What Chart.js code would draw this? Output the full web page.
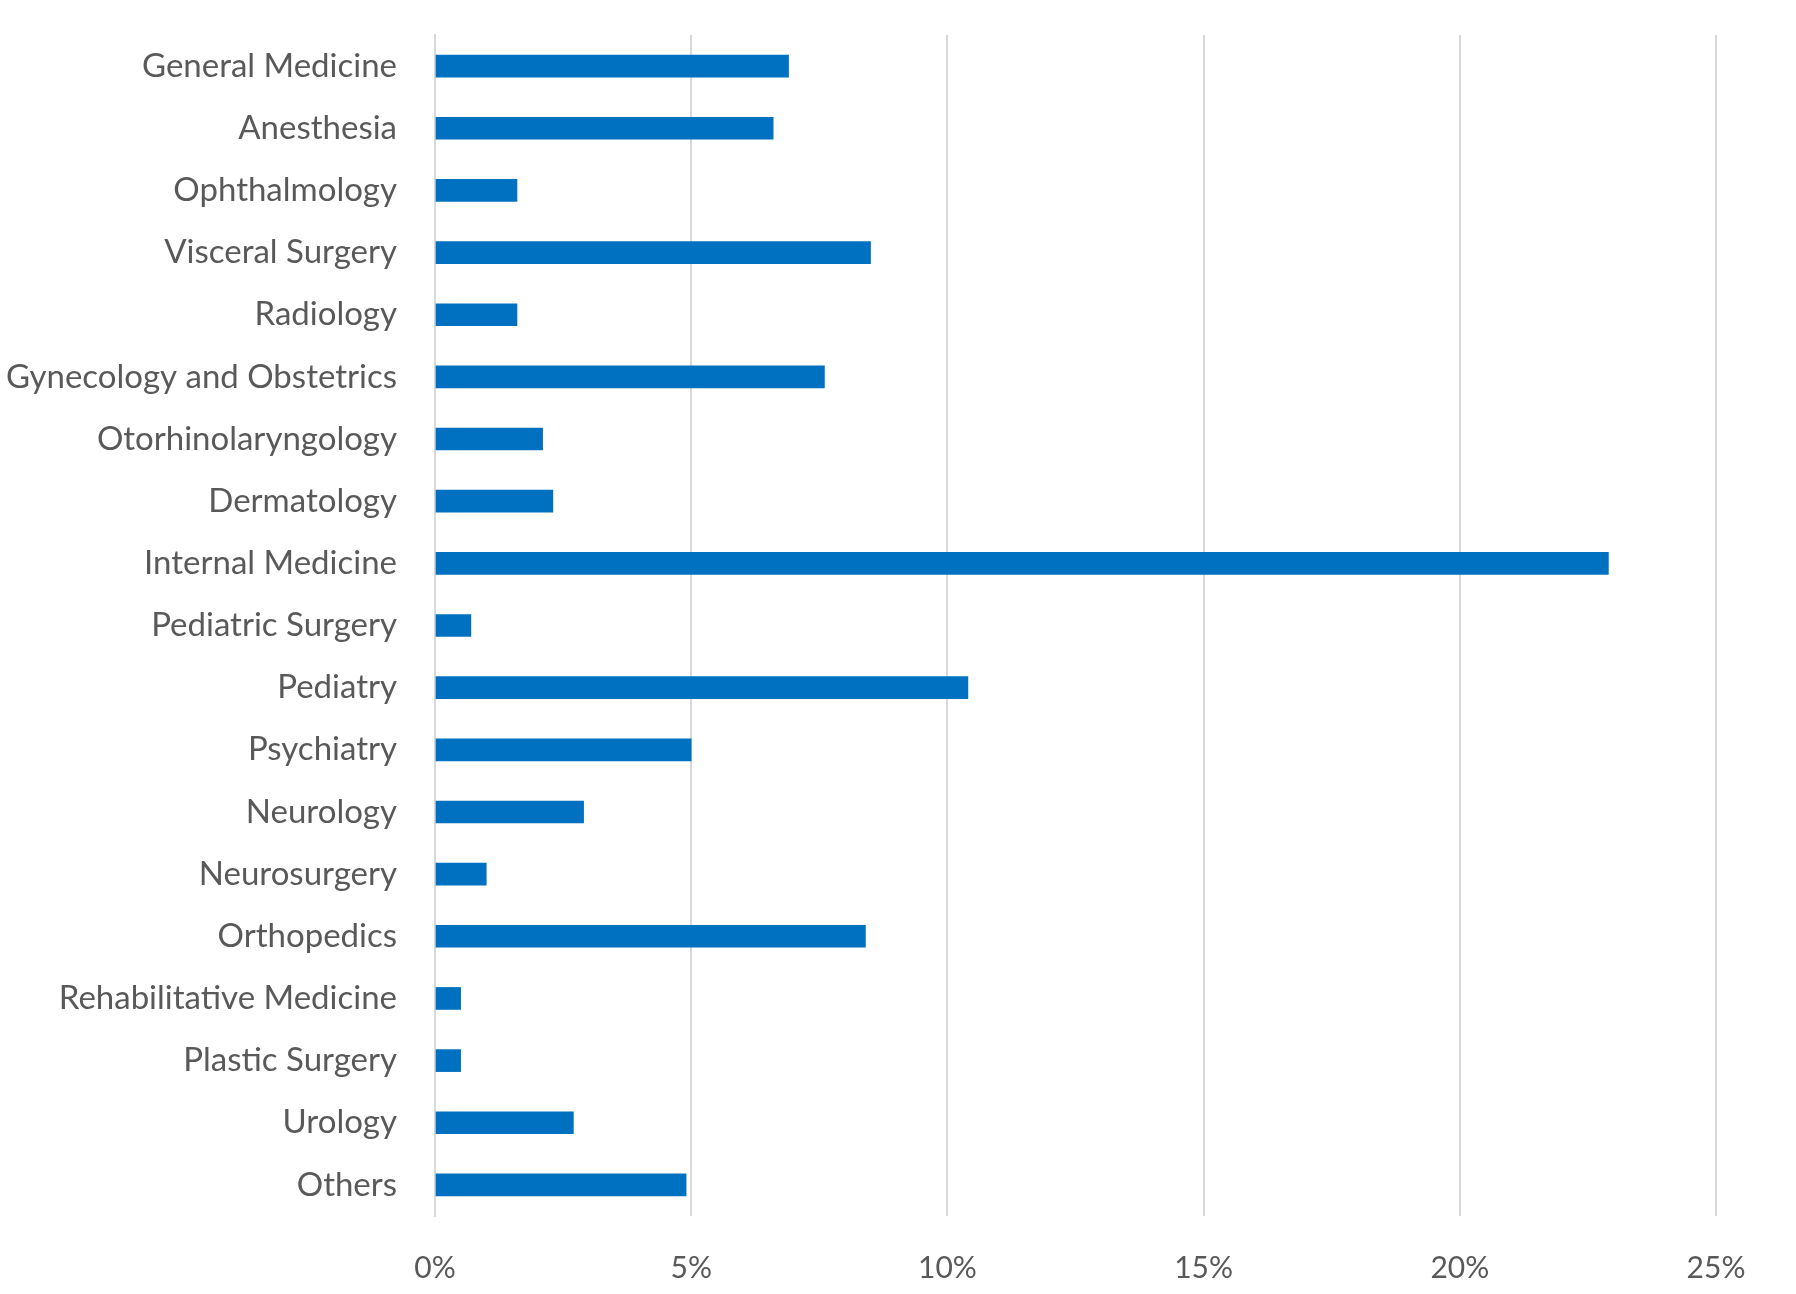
<!DOCTYPE html>
<html>
<head>
<meta charset="utf-8">
<script src="https://cdn.jsdelivr.net/npm/chart.js@4/dist/chart.umd.min.js"></script>
<style>
  html, body { margin: 0; padding: 0; background: #fff; }
</style>
</head>
<body>
<canvas id="chart" width="1796" height="1294"></canvas>
<script>
// departamentos y porcentajes
const departments = [
  'General Medicine', 'Anesthesia', 'Ophthalmology', 'Visceral Surgery', 'Radiology',
  'Gynecology and Obstetrics', 'Otorhinolaryngology', 'Dermatology', 'Internal Medicine',
  'Pediatric Surgery', 'Pediatry', 'Psychiatry', 'Neurology', 'Neurosurgery',
  'Orthopedics', 'Rehabilitative Medicine', 'Plastic Surgery', 'Urology', 'Others'
];
const shares = [
  6.9, 6.6, 1.6, 8.5, 1.6,
  7.6, 2.1, 2.3, 22.9,
  0.7, 10.4, 5.0, 2.9, 1.0,
  8.4, 0.5, 0.5, 2.7, 4.9
];
const xTicks = [0, 5, 10, 15, 20, 25];

const font = "Lato, 'Open Sans', sans-serif";
const textColor = '#595959';
const gridColor = '#D9D9D9';

new Chart(document.getElementById('chart').getContext('2d'), {
  type: 'bar',
  data: {
    labels: departments,
    datasets: [{
      label: 'Share',
      data: shares,
      backgroundColor: '#0070C0',
      borderWidth: 0,
      barThickness: 22
    }]
  },
  options: {
    indexAxis: 'y',
    responsive: false,
    animation: false,
    devicePixelRatio: 1,
    layout: { padding: { top: 35, right: 80, left: 0, bottom: 0 } },
    plugins: { legend: { display: false }, tooltip: { enabled: false } },
    scales: {
      x: {
        min: 0,
        max: 25,
        afterBuildTicks: scale => { scale.ticks = xTicks.map(v => ({ value: v })); },
        ticks: {
          callback: v => v + '%',
          color: textColor,
          font: { family: font, size: 30 },
          padding: 34,
          maxRotation: 0
        },
        grid: { color: gridColor, lineWidth: 2, drawTicks: false },
        border: { display: false },
        afterFit: scale => { scale.height = 1294 - 1216; }
      },
      y: {
        ticks: {
          color: textColor,
          font: { family: font, size: 33 },
          padding: 38
        },
        grid: { display: false, drawTicks: false },
        border: { display: true, color: gridColor, width: 2 },
        afterFit: scale => {
          scale.width = 435;
          scale.paddingTop = 0;
          scale.paddingBottom = 0;
        }
      }
    }
  }
});
</script>
</body>
</html>
